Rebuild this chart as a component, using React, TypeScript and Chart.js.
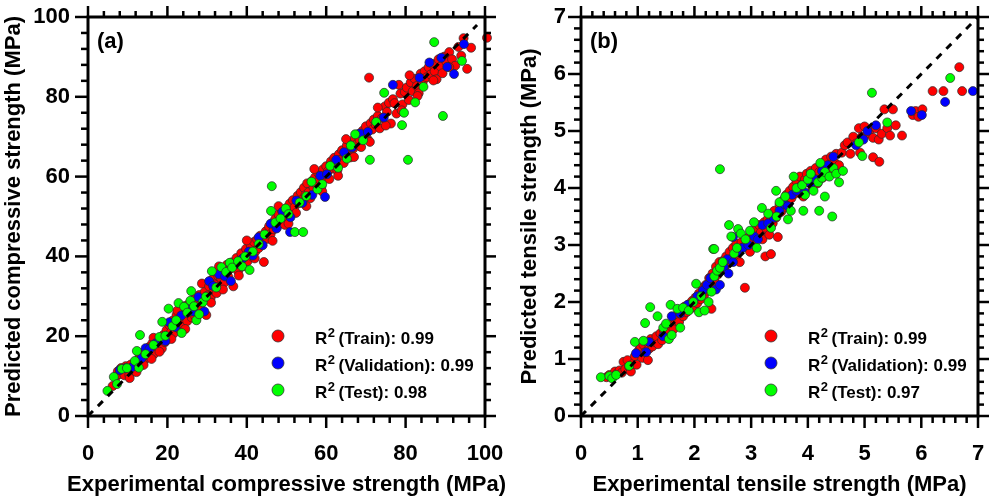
import React, { useEffect, useRef } from "react";
import { Chart, registerables } from "chart.js";
Chart.register(...registerables);

const FONT = "'Liberation Sans', Arial, Helvetica, sans-serif";

type Pt = [number, number];

// ---------------- Panel (a): compressive strength (MPa) ----------------
const compTrain: Pt[] = [
  [6.2, 7.5], [7, 9.8], [7.5, 11.2], [8, 10.5], [8.3, 12], [8.8, 11], [9.2, 10.2], [9.5, 12.5], [10, 11.8], [10.4, 10.3],
  [10.8, 12.9], [11.3, 11.5], [12, 13.4], [12.5, 12.2], [13, 14.8], [13.3, 13.1], [13.8, 15.6], [14.2, 14], [14.6, 16.5], [15, 15.2],
  [15.4, 17.3], [15.8, 16], [16.2, 18.2], [16.6, 15.5], [17, 17.8], [17.3, 19], [17.8, 17], [18.2, 18.8], [18.6, 16.9], [19, 20.3],
  [19.4, 18.5], [19.8, 21.5], [20.2, 19.6], [20.5, 22.8], [20.9, 21], [21.3, 23.9], [21.6, 20.7], [22, 22.5], [22.3, 25.3], [22.7, 23.1],
  [23, 21.8], [23.4, 26.2], [23.7, 24.4], [24, 22.9], [24.3, 27.5], [24.7, 25.6], [25, 23.8], [25.4, 28.1], [25.8, 26], [26.1, 24.7],
  [26.5, 27.8], [26.9, 29.4], [27.2, 26.6], [27.6, 28.5], [28, 30.3], [28.3, 27.4], [28.7, 33.2], [29, 29.5], [29.4, 31.1], [29.8, 25.3],
  [30.1, 30.2], [30.5, 32.5], [30.9, 29.6], [31.3, 34.2], [31.7, 31.4], [32, 33], [32.4, 30.8], [32.8, 35.1], [33.2, 32.6], [33.5, 34.5],
  [33.9, 36.8], [34.3, 33.4], [34.7, 35.6], [35, 37.9], [35.4, 34.8], [35.8, 36.9], [36.2, 38.5], [36.6, 32.5], [37, 37.4], [37.4, 39.6],
  [37.8, 36.3], [38.2, 38.9], [38.6, 40.8], [39, 37.5], [39.4, 39.7], [39.8, 41.9], [40.2, 38.8], [40.6, 40.6], [41, 42.7], [41.4, 39.9],
  [41.8, 43.6], [42.2, 41.3], [42.6, 44.2], [43, 42.1], [43.4, 45.2], [43.8, 43], [44.3, 38.6], [44.8, 46.3], [45.2, 44.4], [45.6, 47.5],
  [46, 45.6], [46.4, 48.3], [46.8, 46.8], [47.2, 49.4], [47.6, 47.3], [48, 50.5], [48.4, 48.4], [48.8, 51.6], [49.2, 49.3], [49.6, 47.9],
  [50, 52.1], [50.4, 50.6], [50.8, 53.2], [51.2, 51.4], [51.6, 54.1], [52, 52.3], [52.4, 50.9], [52.8, 55.2], [53.2, 53.4], [53.6, 56.1],
  [54, 54.3], [54.4, 57.2], [54.8, 55.4], [55.2, 58.3], [55.6, 56.1], [56, 54.6], [56.4, 58.9], [56.8, 57.2], [57.2, 59.8], [57.6, 58.1],
  [58, 60.9], [58.4, 59.2], [58.8, 57.5], [59.2, 61.8], [59.6, 60.1], [60, 62.6], [60.4, 61.3], [60.8, 59.4], [61.2, 63.8], [61.6, 62],
  [62, 64.7], [62.4, 63.1], [62.8, 61.5], [63.2, 65.6], [63.6, 64.2], [64, 66.6], [64.4, 63.4], [64.8, 65.5], [65.2, 67.8], [65.6, 66.2],
  [66, 64.8], [66.4, 68.4], [66.8, 67], [67.2, 69.6], [67.6, 68.1], [68, 70.6], [68.4, 69.2], [68.8, 67.4], [69.2, 71.5], [69.6, 70.2],
  [70, 72.6], [70.4, 69.4], [70.8, 84.8], [71.2, 73.4], [71.6, 71.8], [72, 74.3], [72.5, 73], [73, 75.2], [73.5, 72.1], [74, 74.6],
  [74.8, 77.6], [75.3, 76.2], [75.8, 78.5], [76.3, 73.3], [76.8, 79.4], [77.2, 78.4], [77.7, 75.8], [78.3, 83], [78.7, 80.8], [79.2, 78.1],
  [79.8, 81.2], [80.3, 82.3], [80.8, 79.2], [81.3, 83.6], [81.8, 81.4], [82.3, 84.5], [82.8, 82.7], [83.3, 80.9], [83.8, 85.8], [84.3, 83.6],
  [84.8, 86.4], [85.3, 84.9], [85.8, 87.4], [86.3, 85.6], [86.8, 88.2], [87.3, 86.4], [87.8, 84.4], [88.3, 89.4], [88.8, 87.6], [89.3, 85.9],
  [89.8, 90.1], [90.3, 88.7], [91, 91.2], [91.7, 89.4], [92.5, 87.8], [93.3, 92.5], [94, 90.3], [94.6, 94.7], [95.5, 87], [96.5, 92.3],
  [100.5, 94.8],
  [10.5, 9.5], [12.2, 11], [14, 12.8], [16, 14.3], [18, 16.1], [21, 19.3], [24.5, 21.8], [27, 25], [31, 28.4], [34, 31.7],
  [38, 35.2], [42, 39.5], [46.5, 43.9], [50.5, 48.2], [55, 52.6], [59, 56.3], [63, 60.2], [67, 64.9], [71, 68.7], [75, 72.8],
  [79, 76.6], [83, 80.2], [87, 84.1], [91, 87.4], [16.5, 19.6], [22.5, 26.4], [33, 37.5], [40, 44], [48, 52.6], [57, 61.9],
  [65, 69.4], [73, 77.3], [81, 85.4],
];
const compVal: Pt[] = [
  [8, 11.5], [9.5, 12], [11, 12.2], [13.5, 14.5], [14.5, 17], [15.5, 16.8], [17, 18.2], [19.5, 18.8], [20.5, 23.5], [22, 22.3],
  [23.5, 25.2], [25, 26.8], [26.5, 26.2], [27.8, 29.8], [29.3, 26.2], [30.5, 33.8], [31.5, 32.6], [33, 35.5], [34.5, 35], [36, 33.8],
  [37.5, 38.1], [39, 39.5], [40.5, 41.2], [41.5, 40.2], [43, 44.8], [44, 42.8], [46, 48.2], [47.5, 47], [49, 51.2], [50.9, 46.1],
  [51, 49.8], [52.5, 54], [54, 53.4], [56.5, 55.4], [58.5, 60.2], [59.7, 54.9], [60.2, 60.6], [62.5, 64.2], [64.5, 66.1], [66.5, 67.3],
  [68.5, 70.8], [70.5, 71.2], [74.5, 74.8], [76.8, 83], [83.5, 84.8], [86, 88.6], [89, 89.8], [90.5, 87.5], [92.2, 85.7], [94.7, 93.2],
];
const compTest: Pt[] = [
  [4.9, 6.3], [6.5, 9.8], [7.3, 8], [8.5, 11.8], [9.8, 12], [11.8, 13.8], [12.3, 16.3], [12.8, 12.1], [13.1, 20.3], [14.5, 15.5],
  [16.5, 17.8], [18, 19.8], [18.7, 23.6], [19.5, 20.1], [20.3, 26.9], [21.3, 22.5], [22.2, 24], [22.8, 28.3], [23.6, 20.8], [24.2, 27.4],
  [25, 25.9], [25.8, 28.9], [26, 31.3], [26.7, 27.5], [27.3, 24], [28, 25.5], [28.9, 28.5], [29.7, 29.9], [31.2, 36.3], [32.3, 32.2],
  [33.6, 37.3], [34.8, 36.1], [35.7, 38.4], [36.3, 37.2], [37.8, 38.8], [38.8, 37.5], [39.6, 40], [40.7, 36.6], [41.5, 41.2], [43, 43.1],
  [44.5, 45.5], [46.1, 51.4], [46.3, 57.6], [47.2, 48.5], [48.5, 49.5], [49.8, 52], [50.5, 50.6], [52.1, 46.1], [54.2, 46.1], [53.3, 53.5],
  [55, 55.1], [56.3, 58.7], [57.8, 56.8], [59, 58.1], [61, 62.7], [63, 62.2], [65.2, 64.5], [66.2, 67.8], [67.3, 70.6], [69.3, 69.1],
  [71, 64.2], [72.6, 73.7], [74.6, 81], [80.6, 64.2], [79.6, 76], [79.1, 72.9], [82.4, 78.6], [84.5, 82.5], [87.2, 93.7], [89.4, 75.2],
  [94.2, 89],
];
const compIdentity = [0, 98];
const compLegend = ["(Train): 0.99", "(Validation): 0.99", "(Test): 0.98"];
const compXTitle = "Experimental compressive strength (MPa)";
const compYTitle = "Predicted compressive strength (MPa)";
const compTag = "(a)";
const compAxis = { min: 0, max: 100, major: 20, minor: 4 };

// ---------------- Panel (b): tensile strength (MPa) ----------------
const tensTrain: Pt[] = [
  [0.45, 0.68], [0.5, 0.72], [0.55, 0.7], [0.6, 0.78], [0.63, 0.74], [0.68, 0.8], [0.72, 0.76], [0.75, 0.95], [0.78, 0.82], [0.82, 0.98],
  [0.85, 0.86], [0.88, 0.78], [0.92, 0.92], [0.95, 1.05], [0.98, 0.9], [1.02, 1.15], [1.05, 1.2], [1.08, 1.02], [1.1, 1.25], [1.13, 1.12],
  [1.18, 0.98], [1.18, 1.28], [1.2, 1.18], [1.23, 1.35], [1.26, 1.22], [1.3, 1.3], [1.33, 1.4], [1.36, 1.26], [1.4, 1.45], [1.43, 1.33],
  [1.46, 1.5], [1.5, 1.42], [1.53, 1.56], [1.56, 1.48], [1.6, 1.62], [1.63, 1.52], [1.66, 1.7], [1.7, 1.78], [1.73, 1.65], [1.76, 1.86],
  [1.8, 1.75], [1.83, 1.92], [1.86, 1.82], [1.9, 1.96], [1.93, 1.88], [1.96, 2.02], [1.99, 1.92], [2.02, 2.08], [2.05, 1.98], [2.08, 2.15],
  [2.11, 2.05], [2.14, 2.25], [2.17, 2.12], [2.2, 2.3], [2.23, 2.2], [2.26, 2.42], [2.29, 2.28], [2.3, 1.88], [2.32, 2.5], [2.35, 2.38],
  [2.38, 2.62], [2.41, 2.48], [2.44, 2.7], [2.47, 2.55], [2.5, 2.72], [2.53, 2.6], [2.56, 2.8], [2.59, 2.68], [2.62, 2.88], [2.65, 2.76],
  [2.68, 2.95], [2.71, 2.82], [2.74, 3.02], [2.77, 2.9], [2.8, 2.7], [2.83, 3.05], [2.86, 2.96], [2.89, 2.25], [2.92, 3.12], [2.95, 3.0],
  [2.98, 2.88], [3.02, 3.2], [3.05, 3.08], [3.08, 3.28], [3.11, 3.15], [3.14, 3.35], [3.17, 3.22], [3.2, 3.1], [3.23, 3.4], [3.26, 3.3],
  [3.25, 2.8], [3.35, 2.84], [3.29, 3.45], [3.32, 3.18], [3.35, 3.5], [3.38, 3.38], [3.41, 3.6], [3.44, 3.48], [3.47, 3.14], [3.5, 3.7],
  [3.53, 3.58], [3.56, 3.78], [3.59, 3.66], [3.62, 3.88], [3.65, 3.74], [3.68, 3.95], [3.71, 3.82], [3.74, 4.02], [3.77, 3.9], [3.8, 4.12],
  [3.83, 3.96], [3.86, 4.2], [3.89, 4.05], [3.92, 3.85], [3.95, 4.15], [3.98, 4.25], [4.02, 4.1], [4.05, 4.3], [4.08, 3.98], [4.11, 4.2],
  [4.14, 4.35], [4.17, 4.08], [4.2, 4.28], [4.23, 4.42], [4.26, 4.18], [4.29, 4.33], [4.32, 4.5], [4.35, 4.22], [4.38, 4.4], [4.41, 4.55],
  [4.44, 4.3], [4.47, 4.45], [4.5, 4.6], [4.55, 4.4], [4.6, 4.62], [4.65, 4.75], [4.7, 4.8], [4.75, 4.6], [4.8, 4.9], [4.85, 4.78],
  [4.9, 5.05], [4.95, 4.9], [5.0, 5.08], [5.05, 4.95], [5.1, 5.02], [5.15, 4.88], [5.2, 5.05], [5.25, 4.85], [5.3, 4.95], [5.35, 5.38],
  [5.4, 5.05], [5.45, 4.92], [5.5, 5.38], [5.55, 5.1], [5.66, 4.92], [4.92, 4.62], [5.15, 4.54], [5.26, 4.46], [5.85, 5.28], [5.9, 5.35],
  [5.95, 5.25], [6.02, 5.38], [6.2, 5.7], [6.39, 5.7], [6.67, 6.12], [6.72, 5.7],
];
const tensVal: Pt[] = [
  [0.97, 1.1], [1.15, 1.12], [1.2, 1.3], [1.45, 1.4], [1.6, 1.75], [1.75, 1.8], [1.88, 1.95], [2.05, 2.1], [2.15, 2.2], [2.22, 2.3],
  [2.28, 2.42], [2.38, 2.22], [2.45, 2.3], [2.52, 2.62], [2.6, 2.5], [2.58, 2.75], [2.68, 2.7], [2.68, 3.14], [2.75, 2.88], [2.85, 2.95],
  [2.95, 3.0], [3.05, 3.15], [3.12, 3.1], [3.2, 3.35], [3.3, 3.38], [3.4, 3.48], [3.5, 3.6], [3.58, 3.72], [3.65, 3.68], [3.72, 3.88],
  [3.8, 3.95], [3.88, 4.0], [3.95, 3.92], [4.05, 4.08], [4.15, 4.15], [4.25, 4.3], [4.35, 4.4], [4.45, 4.55], [4.85, 4.75], [4.98, 4.85],
  [5.05, 5.0], [5.2, 5.1], [5.82, 5.35], [6.01, 5.28], [6.42, 5.51], [6.91, 5.7],
];
const tensTest: Pt[] = [
  [0.35, 0.68], [0.5, 0.7], [0.55, 0.66], [0.62, 0.72], [0.85, 0.88], [0.95, 1.3], [1.1, 1.32], [1.22, 1.91], [1.13, 1.63], [1.35, 1.75],
  [1.45, 1.55], [1.5, 1.62], [1.55, 1.35], [1.58, 1.95], [1.6, 1.42], [1.7, 1.88], [1.75, 1.55], [1.8, 1.9], [1.9, 1.85], [1.98, 2.0],
  [2.03, 2.32], [2.08, 1.82], [2.12, 2.1], [2.18, 1.85], [2.25, 2.0], [2.3, 2.18], [2.35, 2.45], [2.4, 2.55], [2.45, 2.6], [2.33, 2.93],
  [2.5, 2.7], [2.35, 2.93], [2.61, 3.35], [2.77, 3.28], [2.65, 3.15], [2.7, 2.85], [2.75, 2.95], [2.82, 3.2], [2.9, 3.1], [2.98, 3.25],
  [3.05, 3.4], [3.19, 3.65], [3.44, 3.95], [3.1, 2.95], [3.3, 3.55], [3.35, 3.3], [3.45, 3.5], [3.5, 3.75], [3.6, 3.85], [3.65, 3.45],
  [3.7, 3.6], [3.75, 4.2], [3.8, 4.0], [3.9, 4.05], [3.95, 3.88], [4.0, 4.15], [4.05, 4.25], [4.1, 3.95], [4.22, 4.44], [4.18, 4.1],
  [4.25, 4.18], [4.3, 4.28], [4.38, 4.2], [4.45, 4.35], [4.5, 4.25], [4.55, 4.1], [4.43, 3.5], [4.2, 3.6], [4.3, 3.85], [3.92, 3.6],
  [4.62, 4.3], [4.9, 4.8], [4.96, 4.56], [5.4, 5.15], [5.13, 5.67], [6.51, 5.93], [2.45, 4.33],
];
const tensIdentity = [0, 7];
const tensLegend = ["(Train): 0.99", "(Validation): 0.99", "(Test): 0.97"];
const tensXTitle = "Experimental tensile strength (MPa)";
const tensYTitle = "Predicted tensile strength (MPa)";
const tensTag = "(b)";
const tensAxis = { min: 0, max: 7, major: 1, minor: 0.2 };

const legendPrefix = "R";
const legendSup = "2";
const seriesColors = ["#ff0000", "#0000ff", "#00ff00"];

// ---------------- chart building ----------------
type AxisSpec = { min: number; max: number; major: number; minor: number };
type PanelSpec = {
  train: Pt[]; val: Pt[]; test: Pt[]; identity: number[]; legend: string[];
  xTitle: string; yTitle: string; tag: string; axis: AxisSpec;
  left: number; width: number; leftW: number; padRight: number; yTitleX: number; yTickPad: number;
};

const TICK_FONT = { family: FONT, size: 22, weight: "bold" as const };

function decoPlugin(p: PanelSpec) {
  return {
    id: "deco",
    afterDraw(chart: any) {
      const { ctx, chartArea: a } = chart;
      const xs = chart.scales.x;
      const ys = chart.scales.y;
      ctx.save();
      ctx.strokeStyle = "#000";
      ctx.lineWidth = 2.5;
      const n = Math.round((p.axis.max - p.axis.min) / p.axis.minor);
      const ratio = Math.round(p.axis.major / p.axis.minor);
      const seg = (x1: number, y1: number, x2: number, y2: number) => {
        ctx.beginPath(); ctx.moveTo(x1, y1); ctx.lineTo(x2, y2); ctx.stroke();
      };
      for (let i = 0; i <= n; i++) {
        const v = p.axis.min + i * p.axis.minor;
        const major = i % ratio === 0;
        const px = xs.getPixelForValue(v);
        seg(px, a.bottom, px, a.bottom + (major ? 12 : 7));
        seg(px, a.top, px, a.top - (major ? 11 : 6));
        const py = ys.getPixelForValue(v);
        seg(a.left, py, a.left - (major ? 13 : 7), py);
        seg(a.right, py, a.right + (major ? 11 : 6), py);
      }
      ctx.lineWidth = 3;
      ctx.strokeRect(a.left, a.top, a.right - a.left, a.bottom - a.top);

      ctx.fillStyle = "#000";
      // axis titles (drawn without width compression)
      ctx.font = `bold 22px ${FONT}`;
      ctx.textAlign = "center";
      ctx.textBaseline = "middle";
      ctx.fillText(p.xTitle, (a.left + a.right) / 2, a.bottom + 69);
      ctx.save();
      ctx.translate(p.yTitleX, (a.top + a.bottom) / 2);
      ctx.rotate(-Math.PI / 2);
      ctx.fillText(p.yTitle, 0, 0);
      ctx.restore();

      // panel tag
      ctx.font = `bold 22px ${FONT}`;
      ctx.textAlign = "left";
      ctx.fillText(p.tag, a.left + 9, a.top + 25);

      // legend
      for (let i = 0; i < 3; i++) {
        const ds = chart.data.datasets[i];
        const cy = a.bottom - 80 + i * 27;
        ctx.beginPath();
        ctx.arc(a.left + 190, cy, 6, 0, Math.PI * 2);
        ctx.fillStyle = ds.backgroundColor;
        ctx.fill();
        ctx.lineWidth = 0.8;
        ctx.strokeStyle = "#333";
        ctx.stroke();
        ctx.fillStyle = "#000";
        let tx = a.left + 227;
        const ty = cy + 3;
        ctx.font = `bold 17px ${FONT}`;
        ctx.fillText(legendPrefix, tx, ty);
        tx += ctx.measureText(legendPrefix).width;
        ctx.font = `bold 13px ${FONT}`;
        ctx.fillText(legendSup, tx + 0.5, ty - 6);
        tx += ctx.measureText(legendSup).width + 4;
        ctx.font = `bold 17px ${FONT}`;
        ctx.fillText(ds.label, tx, ty);
      }
      ctx.restore();
    },
  };
}

function buildConfig(p: PanelSpec): any {
  const toPts = (arr: Pt[]) => arr.map(([x, y]) => ({ x, y }));
  const series = [p.train, p.val, p.test];
  const datasets: any[] = series.map((s, i) => ({
    label: p.legend[i],
    data: toPts(s),
    backgroundColor: seriesColors[i],
    borderColor: "#2a2a2a",
    borderWidth: 0.7,
    pointRadius: 4.5,
    order: 4 - i,
    clip: 8,
  }));
  datasets.push({
    label: "",
    data: p.identity.map((v) => ({ x: v, y: v })),
    showLine: true,
    borderColor: "#000",
    borderWidth: 3,
    borderDash: [7, 7],
    pointRadius: 0,
    fill: false,
    order: 0,
  });
  const axisBase = {
    type: "linear",
    min: p.axis.min,
    max: p.axis.max,
    grid: { display: false, drawTicks: false },
    border: { display: false },
  };
  return {
    type: "scatter",
    data: { datasets },
    options: {
      responsive: false,
      animation: false,
      events: [],
      layout: { padding: { left: 0, right: p.padRight, top: 17, bottom: 0 } },
      plugins: { legend: { display: false }, tooltip: { enabled: false } },
      scales: {
        x: {
          ...axisBase,
          position: "bottom",
          ticks: { stepSize: p.axis.major, font: TICK_FONT, color: "#000", padding: 25, maxRotation: 0, autoSkip: false },
          afterFit: (s: any) => { s.height = 81; s.paddingLeft = 0; s.paddingRight = 0; },
        },
        y: {
          ...axisBase,
          position: "left",
          ticks: { stepSize: p.axis.major, font: TICK_FONT, color: "#000", padding: p.yTickPad, autoSkip: false },
          afterFit: (s: any) => { s.width = p.leftW; s.paddingTop = 0; s.paddingBottom = 0; },
        },
      },
    },
    plugins: [decoPlugin(p)],
  };
}

const panelA: PanelSpec = {
  train: compTrain, val: compVal, test: compTest, identity: compIdentity, legend: compLegend,
  xTitle: compXTitle, yTitle: compYTitle, tag: compTag, axis: compAxis,
  left: 0, width: 520, leftW: 88, padRight: 35, yTitleX: 14, yTickPad: 18,
};
const panelB: PanelSpec = {
  train: tensTrain, val: tensVal, test: tensTest, identity: tensIdentity, legend: tensLegend,
  xTitle: tensXTitle, yTitle: tensYTitle, tag: tensTag, axis: tensAxis,
  left: 496, width: 497, leftW: 85, padRight: 15, yTitleX: 34, yTickPad: 15,
};

function Panel({ spec }: { spec: PanelSpec }) {
  const ref = useRef<HTMLCanvasElement>(null);
  useEffect(() => {
    const chart = new Chart(ref.current as HTMLCanvasElement, buildConfig(spec));
    return () => chart.destroy();
  }, [spec]);
  return (
    <canvas
      ref={ref}
      width={spec.width}
      height={497}
      style={{ position: "absolute", left: spec.left, top: 0, display: "block", width: spec.width, height: 497 }}
    />
  );
}

export default function App() {
  return (
    <div style={{ position: "fixed", left: 0, top: 0, width: 993, height: 497, background: "#fff", overflow: "hidden" }}>
      <Panel spec={panelA} />
      <Panel spec={panelB} />
    </div>
  );
}
